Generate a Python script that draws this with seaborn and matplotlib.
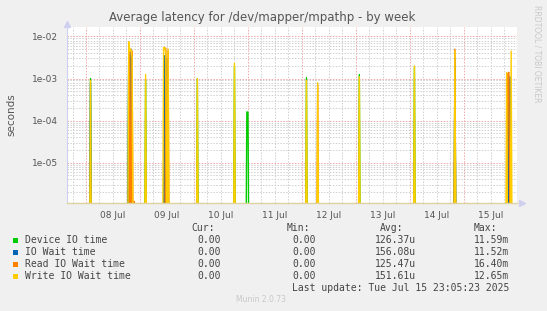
import matplotlib
matplotlib.use('Agg')
import matplotlib.pyplot as plt
import matplotlib.ticker as mticker
from matplotlib.patches import Rectangle
import seaborn as sns
import pandas as pd
import numpy as np

## 시리즈 정의 (munin 색상)
series_names = ['Device IO time', 'IO Wait time', 'Read IO Wait time', 'Write IO Wait time']
series_colors = ['#00CC00', '#0066B3', '#FF8000', '#FFCC00']

## 스파이크 데이터: (Jul 8 00:00 기준 시간, 초)
device_hours = [2.0, 19.0, 20.0, 26.5, 35.0, 36.0, 49.5, 66.0, 71.5, 72.0, 98.0, 121.5, 146.0, 164.0, 188.0]
device_vals = [1.0e-3, 3.2e-3, 3.5e-3, 9e-4, 1.7e-3, 2.0e-3, 1.0e-3, 2.0e-3, 1.6e-4, 1.6e-4, 1.05e-3, 1.25e-3, 1.9e-3, 1.7e-3, 1.0e-3]

io_hours = [2.0, 19.0, 20.0, 35.0, 36.0, 164.0, 187.5, 188.5]
io_vals = [8e-4, 4.6e-3, 5.0e-3, 3.5e-3, 3.0e-3, 3.0e-3, 6.6e-4, 1.1e-3]

read_hours = [19.5, 20.5, 21.5, 35.5, 36.5, 103.0, 164.0, 187.5, 188.0]
read_vals = [5.0e-3, 4.5e-3, 1.2e-6, 5.3e-3, 4.5e-3, 7e-4, 5.0e-3, 1.3e-3, 1.4e-3]

write_hours = [2.0, 19.0, 19.5, 20.0, 20.5, 26.5, 34.5, 35.0, 35.5, 36.5, 49.5, 66.0, 98.0, 103.0, 121.5, 146.0, 164.0, 187.0, 189.0]
write_vals = [9e-4, 7.5e-3, 4.5e-3, 5.0e-3, 3.0e-3, 1.25e-3, 5.5e-3, 5.5e-3, 4.0e-3, 5.0e-3, 1.0e-3, 2.3e-3, 9e-4, 8e-4, 1.1e-3, 2.0e-3, 4.5e-3, 1.4e-3, 4.5e-3]

legend_cur = ['0.00', '0.00', '0.00', '0.00']
legend_min = ['0.00', '0.00', '0.00', '0.00']
legend_avg = ['126.37u', '156.08u', '125.47u', '151.61u']
legend_max = ['11.59m', '11.52m', '16.40m', '12.65m']

day_labels = ['08 Jul', '09 Jul', '10 Jul', '11 Jul', '12 Jul', '13 Jul', '14 Jul', '15 Jul']

## 30분 간격 시계열 (0 값은 로그 축 아래로)
t = np.arange(-8.5, 192.0, 0.5)
floor = 1e-8
rows = []
for name, hrs, vals in zip(series_names,
                           [device_hours, io_hours, read_hours, write_hours],
                           [device_vals, io_vals, read_vals, write_vals]):
    y = np.full(len(t), floor)
    for h, v in zip(hrs, vals):
        y[int(round((h - t[0]) / 0.5))] = v
    rows.append(pd.DataFrame({'hour': t, 'value': y, 'series': name}))
df = pd.concat(rows, ignore_index=True)

sns.set_style('white')
plt.rcParams['font.family'] = ['DejaVu Sans']

W, H = 547, 311
fig = plt.figure(figsize=(W / 100, H / 100), dpi=100, facecolor='#F0F0F0')
x0, x1, y0, y1 = 66.7, 517, 27, 203
ax = fig.add_axes([x0 / W, 1 - y1 / H, (x1 - x0) / W, (y1 - y0) / H])
ax.set_facecolor('white')

sns.lineplot(data=df, x='hour', y='value', hue='series', hue_order=series_names,
             palette=series_colors, estimator=None, legend=False, linewidth=1.0, ax=ax)

ax.set_yscale('log')
ax.set_ylim(1.1e-6, 1.68e-2)
ax.set_xlim(-8.58, 191.6)

## 눈금 및 그리드
ax.yaxis.set_major_locator(mticker.LogLocator(base=10, numticks=10))
ax.yaxis.set_minor_locator(mticker.LogLocator(base=10, subs=np.arange(2, 10), numticks=20))
ax.yaxis.set_major_formatter(mticker.FuncFormatter(lambda v, p: f'{v:.0e}'))
ax.yaxis.set_minor_formatter(mticker.NullFormatter())

ax.xaxis.set_major_locator(mticker.FixedLocator([24 * i for i in range(8)]))
ax.xaxis.set_minor_locator(mticker.MultipleLocator(6))
ax.xaxis.set_major_formatter(mticker.NullFormatter())
ax.xaxis.set_minor_formatter(mticker.FuncFormatter(
    lambda v, p: day_labels[int(v // 24)] if (v % 24 == 12 and 0 <= v // 24 < len(day_labels)) else ''))

ax.grid(which='major', color='#F2A8A8', linestyle=(0, (1.5, 1.5)), linewidth=0.7)
ax.grid(which='minor', color='#D0D0D0', linestyle=(0, (1.5, 1.5)), linewidth=0.7)
ax.set_axisbelow(True)

ax.tick_params(which='both', direction='out', length=2, width=0.6, color='#C8C8C8',
               labelsize=6.5, labelcolor='#555555', pad=4)
ax.tick_params(axis='x', which='minor', pad=4)

for s in ['top', 'right']:
    ax.spines[s].set_visible(False)
ax.spines['left'].set_color('#CFCFF0')
ax.spines['bottom'].set_color('#DDD3A0')
ax.spines['left'].set_linewidth(0.8)
ax.spines['bottom'].set_linewidth(1.0)

## 축 화살표
ax.plot([0], [1.015], marker='^', ms=4, color='#CFCFF0', transform=ax.transAxes, clip_on=False)
ax.plot([1.01], [0], marker='>', ms=4, color='#CFCFF0', transform=ax.transAxes, clip_on=False)

ax.set_xlabel('')
ax.set_ylabel('')


def fx(px):
    return px / W


def fy(py):
    return 1 - py / H


fig.text(fx(11), fy(115), 'seconds', rotation=90, ha='center', va='center',
         fontsize=7.5, color='#555555')
fig.text(fx(262), fy(18), 'Average latency for /dev/mapper/mpathp - by week',
         ha='center', va='center', fontsize=8.5, color='#555555')
fig.text(fx(537), fy(5), 'RRDTOOL / TOBI OETIKER', rotation=270, ha='center', va='top',
         fontsize=5.5, color='#C8C8C8')

## 범례 표
mono = 'DejaVu Sans Mono'
fs = 7
tc = '#444444'
fig.text(fx(215), fy(228), 'Cur:', ha='right', va='center', family=mono, fontsize=fs, color=tc)
fig.text(fx(310), fy(228), 'Min:', ha='right', va='center', family=mono, fontsize=fs, color=tc)
fig.text(fx(403), fy(228), 'Avg:', ha='right', va='center', family=mono, fontsize=fs, color=tc)
fig.text(fx(497), fy(228), 'Max:', ha='right', va='center', family=mono, fontsize=fs, color=tc)
for i, name in enumerate(series_names):
    yy = 240 + 12 * i
    fig.patches.append(Rectangle((fx(13), fy(yy + 2.5)), 5 / W, 5 / H, transform=fig.transFigure,
                                 facecolor=series_colors[i], edgecolor='none'))
    fig.text(fx(25), fy(yy), name, ha='left', va='center', family=mono, fontsize=fs, color=tc)
    fig.text(fx(221), fy(yy), legend_cur[i], ha='right', va='center', family=mono, fontsize=fs, color=tc)
    fig.text(fx(316), fy(yy), legend_min[i], ha='right', va='center', family=mono, fontsize=fs, color=tc)
    fig.text(fx(416), fy(yy), legend_avg[i], ha='right', va='center', family=mono, fontsize=fs, color=tc)
    fig.text(fx(509), fy(yy), legend_max[i], ha='right', va='center', family=mono, fontsize=fs, color=tc)
fig.text(fx(509), fy(288), 'Last update: Tue Jul 15 23:05:23 2025', ha='right', va='center',
         family=mono, fontsize=fs, color=tc)
fig.text(fx(261), fy(300), 'Munin 2.0.73', ha='center', va='center', fontsize=5.5, color='#C8C8C8')

fig.savefig('out.png', dpi=100, facecolor=fig.get_facecolor())
